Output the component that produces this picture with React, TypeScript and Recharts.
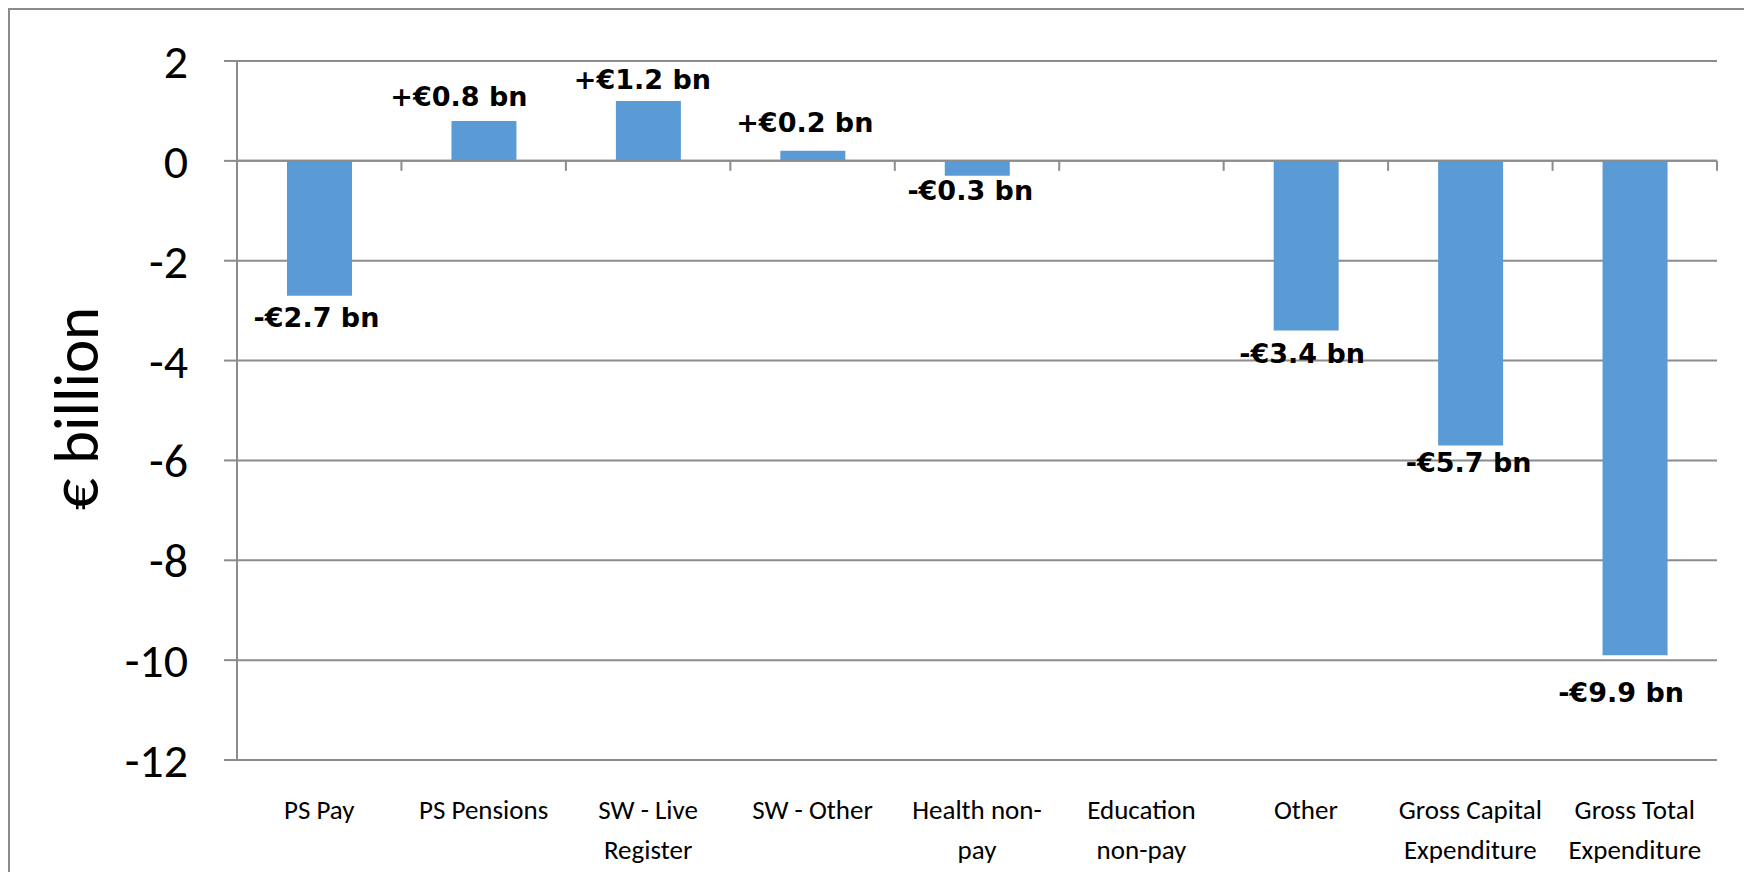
import React from 'react';
import { BarChart, Bar, XAxis, YAxis, CartesianGrid, ReferenceLine, LabelList } from 'recharts';

// ---- data ----
const categories = [
  'PS Pay',
  'PS Pensions',
  'SW - Live\nRegister',
  'SW - Other',
  'Health non-\npay',
  'Education\nnon-pay',
  'Other',
  'Gross Capital\nExpenditure',
  'Gross Total\nExpenditure',
];
const changes = [-2.7, 0.8, 1.2, 0.2, -0.3, 0, -3.4, -5.7, -9.9];
const yTicks = [2, 0, -2, -4, -6, -8, -10, -12];
const yAxisTitle = '€ billion';

const data = categories.map((c, i) => ({ category: c, value: changes[i] }));

// ---- styles ----
const GRAY = '#8c8c8c';
const BAR = '#5b9bd5';
const CALIBRI = 'Carlito, Lato, sans-serif';
const LABEL_FONT = '"DejaVu Sans", Verdana, sans-serif';
// small per-label nudges (dx, dy) mimicking the hand-placed labels, in category order
const labelNudge: [number, number][] = [
  [-3, 0], [-25, 0], [-6, 3], [-8, -4], [-7, -7], [0, 0], [-4, 1], [-2, -4], [-14, 16],
];

const fmt = (v: number) => `${v > 0 ? '+' : '-'}€${Math.abs(v).toFixed(1)} bn`;

const BarValueLabel = (props: any) => {
  const { x, y, width, height } = props;
  const idx = categories.indexOf(String(props.value));
  if (idx < 0) return null;
  const v = changes[idx];
  if (!v) return null;
  const top = Math.min(y, y + height);
  const bottom = Math.max(y, y + height);
  const n = labelNudge[idx] || [0, 0];
  const cx = x + width / 2 + n[0];
  const cy = (v > 0 ? top - 25 : bottom + 21) + n[1];
  return (
    <text x={cx} y={cy + 10} textAnchor="middle" fontFamily={LABEL_FONT} fontWeight="bold" fontSize={27} fill="#000">
      {fmt(v)}
    </text>
  );
};

const ZeroLine = (props: any) => {
  const { x1, y1, x2, y2 } = props;
  const n = categories.length;
  return (
    <g>
      <line x1={x1} y1={y1} x2={x2} y2={y2} stroke={GRAY} strokeWidth={2} />
      {Array.from({ length: n + 1 }, (_, i) => {
        const tx = x1 + ((x2 - x1) * i) / n;
        return <line key={i} x1={tx} x2={tx} y1={y1} y2={y1 + 10} stroke={GRAY} strokeWidth={2} />;
      })}
    </g>
  );
};

const CategoryTick = (props: any) => {
  const { x, y, payload } = props;
  const lines = String(payload.value).split('\n');
  return (
    <g>
      {lines.map((l, i) => (
        <text key={i} x={x} y={y + 59 + i * 40} textAnchor="middle" fontFamily={CALIBRI} fontSize={27} fill="#000">
          {l}
        </text>
      ))}
    </g>
  );
};

const YTitle = (props: any) => {
  const vb = props.viewBox || { x: 0, y: 51, width: 227, height: 699 };
  const cx = vb.x + 88;
  const cy = vb.y + vb.height / 2 - 2;
  return (
    <text x={cx} y={cy} transform={`rotate(-90, ${cx}, ${cy})`} textAnchor="middle" fontFamily={CALIBRI} fontSize={63} fill="#000">
      {yAxisTitle}
    </text>
  );
};

export default function App() {
  return (
    <div
      style={{
        width: 1743,
        height: 864,
        borderTop: `2px solid ${GRAY}`,
        borderLeft: `2px solid ${GRAY}`,
        borderRight: `2px solid ${GRAY}`,
        boxSizing: 'border-box',
        background: '#fff',
      }}
    >
      <BarChart width={1739} height={862} data={data} margin={{ top: 51, right: 32, bottom: 2, left: 0 }}>
        <CartesianGrid vertical={false} stroke={GRAY} strokeWidth={2} />
        <XAxis
          dataKey="category"
          interval={0}
          axisLine={false}
          tickLine={false}
          tickSize={0}
          tickMargin={0}
          height={110}
          tick={<CategoryTick />}
        />
        <YAxis
          type="number"
          domain={[-12, 2]}
          ticks={yTicks}
          interval={0}
          width={227}
          axisLine={{ stroke: GRAY, strokeWidth: 2 }}
          tickLine={{ stroke: GRAY, strokeWidth: 2 }}
          tickSize={13}
          tickMargin={36}
          tick={{ fontSize: 48, fill: '#000', fontFamily: CALIBRI }}
          label={YTitle}
        />
        <Bar dataKey="value" fill={BAR} barSize={65} isAnimationActive={false}>
          <LabelList dataKey="category" content={BarValueLabel} />
        </Bar>
        <ReferenceLine y={0} shape={ZeroLine} />
      </BarChart>
    </div>
  );
}
